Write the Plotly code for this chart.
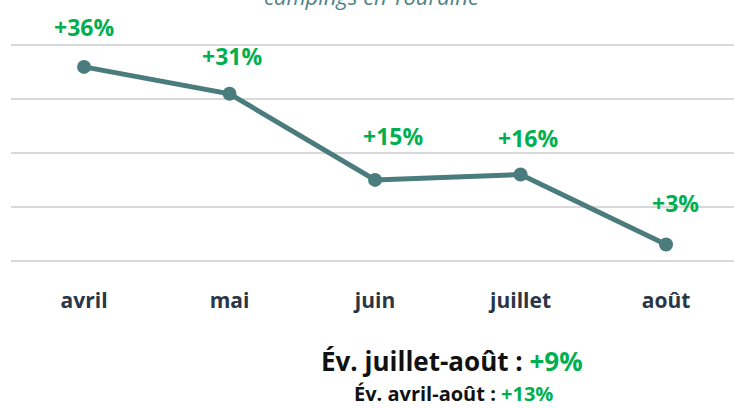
import plotly.graph_objects as go

months = ["avril", "mai", "juin", "juillet", "août"]
evolution = [36, 31, 15, 16, 3]
labels = ["+36%", "+31%", "+15%", "+16%", "+3%"]
title_text = "campings en Touraine"
summary_main = "Év. juillet-août : "
summary_main_value = "+9%"
summary_sub = "Év. avril-août : "
summary_sub_value = "+13%"

# label offsets (style only, pixels)
label_dx = [0, 2, 18, 7, 9]
label_dy = [40, 38, 44, 37, 41]

LINE = "#4A7C7E"
GREEN = "#00B050"
FONT = "Open Sans"

x_idx = list(range(len(months)))

fig = go.Figure()
fig.add_trace(go.Scatter(
    x=x_idx, y=evolution, mode="lines+markers",
    line=dict(color=LINE, width=5),
    marker=dict(color=LINE, size=14),
    cliponaxis=False, hoverinfo="skip",
))

for i, (v, t) in enumerate(zip(evolution, labels)):
    fig.add_annotation(
        x=i, y=v, text="<b>%s</b>" % t, showarrow=False,
        xshift=label_dx[i], yshift=label_dy[i], yanchor="middle", xanchor="center",
        font=dict(family=FONT, size=23, color=GREEN),
    )

fig.add_annotation(
    xref="paper", yref="paper", x=0.4993, y=1.1966, xanchor="center", yanchor="middle",
    text=title_text, showarrow=False,
    font=dict(family=FONT, size=22, color="#4F8389", style="italic"),
)
fig.add_annotation(
    xref="paper", yref="paper", x=0.61, y=-0.4215, xanchor="center", yanchor="middle",
    text="<b>%s<span style='color:%s'>%s</span></b>" % (summary_main, GREEN, summary_main_value),
    showarrow=False, font=dict(family=FONT, size=26, color="#111111"),
)
fig.add_annotation(
    xref="paper", yref="paper", x=0.6127, y=-0.5645, xanchor="center", yanchor="middle",
    text="<b>%s<span style='color:%s'>%s</span></b>" % (summary_sub, GREEN, summary_sub_value),
    showarrow=False, font=dict(family=FONT, size=20, color="#111111"),
)

fig.update_layout(
    width=734, height=408,
    margin=dict(l=11, r=0, t=39.6, b=141.6),
    paper_bgcolor="white", plot_bgcolor="white",
    showlegend=False,
    xaxis=dict(
        range=[-0.502, 4.467], tickmode="array", tickvals=x_idx, ticktext=months,
        showgrid=False, zeroline=False, showline=False,
        tickfont=dict(family=FONT, size=21, color="#2A3648", weight="bold"),
        ticklabelstandoff=20,
    ),
    yaxis=dict(
        range=[-1, 41], tickvals=[0, 10, 20, 30, 40],
        showticklabels=False, showgrid=True, gridcolor="#D9D9D9", gridwidth=2,
        zeroline=False, showline=False,
    ),
)

fig.write_html(
    "out.html",
    config={"displayModeBar": False},
    post_script="document.body.style.margin='0';document.body.style.overflow='hidden';",
)
